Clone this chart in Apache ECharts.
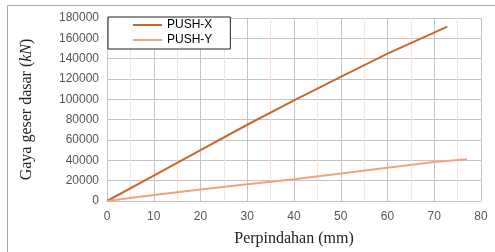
<!DOCTYPE html>
<html><head><meta charset="utf-8">
<script src="https://cdn.jsdelivr.net/npm/echarts@6/dist/echarts.min.js"></script>
<style>html,body{margin:0;padding:0;background:#fff}#c{width:495px;height:252px}</style>
</head><body><div id="c"></div>
<script>
const seriesNames = ['PUSH-X', 'PUSH-Y'];
const pushX = [[0,0],[10,25000],[20,50000],[30,75000],[40,99000],[50,122000],[60,145000],[72.8,171500]];
const pushY = [[0,0],[10,6000],[20,11300],[30,16500],[40,21500],[50,27000],[60,32800],[70,38300],[77,41000]];
const xTicks = {min: 0, max: 80, interval: 10};
const yTicks = {min: 0, max: 180000, interval: 20000};

const chart = echarts.init(document.getElementById('c'), null, {renderer: 'canvas'});
const gridColor = '#c4c4c4';
chart.setOption({
  animation: false,
  graphic: [{type: 'rect', shape: {x: 7.5, y: 5.5, width: 500, height: 260}, style: {fill: 'none', stroke: '#a6a6a6', lineWidth: 1}, z: -1}],
  grid: {left: 107, right: 14, top: 18, bottom: 50, containLabel: false},
  legend: {
    orient: 'vertical', left: 108, top: 17, width: 120,
    backgroundColor: '#fff', borderColor: '#222', borderWidth: 1,
    padding: [2, 18, 3, 25], itemGap: 3, itemWidth: 29, itemHeight: 2,
    textStyle: {fontFamily: 'Liberation Sans, Arial', fontSize: 12, color: '#000'},
    data: [{name: seriesNames[0], icon: 'rect'}, {name: seriesNames[1], icon: 'rect'}]
  },
  xAxis: {
    type: 'value', min: xTicks.min, max: xTicks.max, interval: xTicks.interval,
    name: 'Perpindahan (mm)', nameLocation: 'middle', nameGap: 30,
    nameTextStyle: {fontFamily: 'Liberation Serif, Times New Roman', fontSize: 16, color: '#222'},
    axisLine: {show: true, lineStyle: {color: gridColor}},
    axisTick: {show: false},
    axisLabel: {fontFamily: 'Liberation Sans, Arial', fontSize: 12, color: '#555', margin: 10},
    splitLine: {show: true, lineStyle: {color: gridColor, width: 1}},
    minorTick: {show: false, splitNumber: 2},
    minorSplitLine: {show: true, lineStyle: {color: '#fbe4d5', width: 1}}
  },
  yAxis: {
    type: 'value', min: yTicks.min, max: yTicks.max, interval: yTicks.interval,
    name: '{n|Gaya geser dasar (}{i|kN}{n|)}', nameLocation: 'middle', nameGap: 72, nameRotate: 90,
    nameTextStyle: {rich: {
      n: {fontFamily: 'Liberation Serif, Times New Roman', fontSize: 16, color: '#222'},
      i: {fontFamily: 'Liberation Serif, Times New Roman', fontSize: 16, fontStyle: 'italic', color: '#222'}
    }},
    axisLine: {show: true, lineStyle: {color: gridColor}},
    axisTick: {show: false},
    axisLabel: {fontFamily: 'Liberation Sans, Arial', fontSize: 12, color: '#555', margin: 8,
      formatter: v => String(v)},
    splitLine: {show: true, lineStyle: {color: gridColor, width: 1}}
  },
  series: [
    {name: seriesNames[0], type: 'line', data: pushX, showSymbol: false, symbol: 'none',
     lineStyle: {color: '#c8682c', width: 2}, itemStyle: {color: '#c8682c'}, z: 3},
    {name: seriesNames[1], type: 'line', data: pushY, showSymbol: false, symbol: 'none',
     lineStyle: {color: '#f2a27e', width: 2}, itemStyle: {color: '#f2a27e'}, z: 3}
  ]
});
</script></body></html>
